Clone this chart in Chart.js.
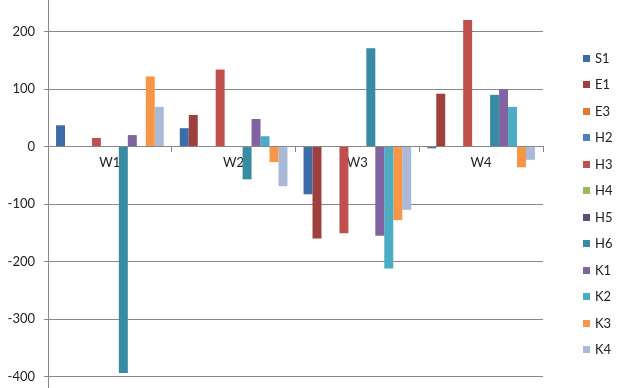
<!DOCTYPE html>
<html lang="en">
<head>
  <meta charset="UTF-8" />
  <title>Weekly scores</title>
  <script src="https://cdn.jsdelivr.net/npm/chart.js"></script>
  <style>
    html, body { margin: 0; padding: 0; background: #fff; }
    #wrap { position: relative; width: 624px; height: 388px; }
    #legend { position: absolute; left: 583px; top: 0; font: 13px Lato, "Open Sans", sans-serif; color: #222; }
    #legend div { position: absolute; white-space: nowrap; line-height: 14px; }
    #legend span { display: inline-block; width: 7px; height: 7px; margin-right: 5px; vertical-align: 1px; }
  </style>
</head>
<body>
<div id="wrap">
  <canvas id="chart" width="624" height="388"></canvas>
  <div id="legend"></div>
</div>

<script>
  // weeks and series
  const categories = ["W1", "W2", "W3", "W4"];
  const seriesNames = ["S1", "E1", "E3", "H2", "H3", "H4", "H5", "H6", "K1", "K2", "K3", "K4"];
  const yTicks = [-400, -300, -200, -100, 0, 100, 200];

  const s1 = [37, 32, -83, -3];
  const e1 = [null, 55, -160, 92];
  const e3 = [null, null, null, null];
  const h2 = [null, null, null, null];
  const h3 = [15, 134, -151, 220];
  const h4 = [null, null, null, null];
  const h5 = [null, null, null, null];
  const h6 = [-394, -57, 171, 90];
  const k1 = [20, 48, -155, 100];
  const k2 = [null, 18, -212, 69];
  const k3 = [122, -27, -128, -36];
  const k4 = [69, -69, -110, -23];

  const seriesValues = [s1, e1, e3, h2, h3, h4, h5, h6, k1, k2, k3, k4];
  const colors = ["#3d6ca6", "#a0403e", "#e07b31", "#4f81bd", "#c0504d", "#9bbb59",
                  "#604a7b", "#378ba3", "#8064a2", "#4bacc6", "#f79646", "#a9b9d8"];

  const gridColor = "#878787";
  const font = { family: "Lato, 'Open Sans', sans-serif", size: 13 };

  new Chart(document.getElementById("chart").getContext("2d"), {
    type: "bar",
    data: {
      labels: categories,
      datasets: seriesNames.map((name, i) => ({
        label: name,
        data: seriesValues[i],
        backgroundColor: colors[i],
        borderWidth: 0,
        categoryPercentage: 0.87,
        barPercentage: 1
      }))
    },
    options: {
      responsive: false,
      animation: false,
      layout: { padding: { left: 0, right: 81, top: 0, bottom: 0 } },
      plugins: { legend: { display: false }, tooltip: { enabled: false } },
      scales: {
        x: {
          // category axis crosses at zero, like the original
          position: { y: 0 },
          afterFit: scale => {
            scale.height = 0;
            scale.paddingLeft = 0; scale.paddingRight = 0;
            scale.paddingTop = 0; scale.paddingBottom = 0;
          },
          grid: { offset: true, drawOnChartArea: false, drawTicks: true, tickLength: 5, color: gridColor },
          border: { color: gridColor },
          ticks: { color: "#222", font: font, padding: 3, maxRotation: 0 }
        },
        y: {
          min: -420,
          max: 255,
          afterBuildTicks: scale => { scale.ticks = yTicks.map(v => ({ value: v })); },
          afterFit: scale => {
            scale.width = 48;
            scale.paddingTop = 0; scale.paddingBottom = 0;
          },
          grid: { color: gridColor, tickLength: 4 },
          border: { color: gridColor },
          ticks: { color: "#222", font: font, padding: 9 }
        }
      }
    }
  });

  // legend on the right
  const legend = document.getElementById("legend");
  seriesNames.forEach((name, i) => {
    const row = document.createElement("div");
    row.style.top = (51 + i * 26.45) + "px";
    row.innerHTML = `<span style="background:${colors[i]}"></span>${name}`;
    legend.appendChild(row);
  });
</script>
</body>
</html>
